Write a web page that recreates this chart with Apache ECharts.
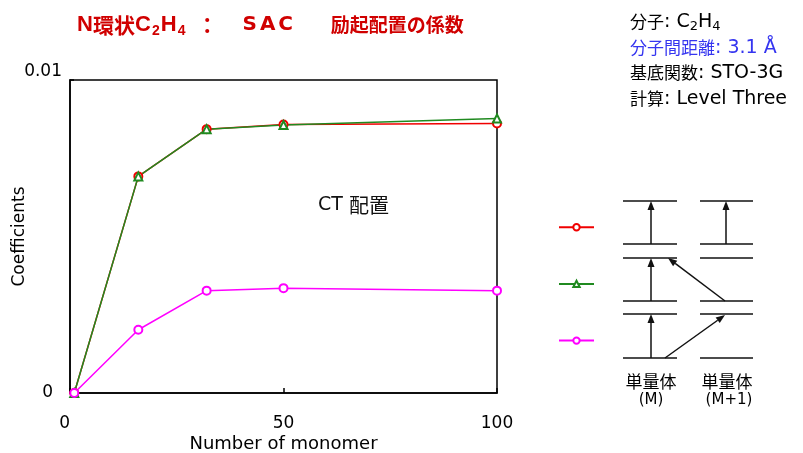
<!DOCTYPE html>
<html><head><meta charset="utf-8">
<script src="https://cdn.jsdelivr.net/npm/echarts@6/dist/echarts.min.js"></script>
<style>html,body{margin:0;padding:0;background:#fff}#c{width:803px;height:453px}</style>
</head><body><div id="c"></div>
<script>
// ---- data ----
const monomers = [1, 16, 32, 50, 100];
const ctRed = [0, 0.00692, 0.00843, 0.00858, 0.00861];
const ctGreen = [0, 0.00692, 0.00843, 0.00856, 0.00877];
const ctMagenta = [0, 0.00202, 0.00327, 0.00335, 0.00327];
const seriesNames = ['CT-1', 'CT-2', 'CT-3'];
const yTickLabels = ['0', '0.01'];
const xAxisTitle = 'Number of monomer';
const yAxisTitle = 'Coefficients';

const LAT = 'DejaVu Sans';
const CJK = 'Noto Sans CJK JP';
const FF = "'DejaVu Sans', 'Noto Sans CJK JP', sans-serif";

function pairs(vals) { return monomers.map((m, i) => [m, vals[i]]); }

function arrowEls(x1, y1, x2, y2) {
  const dx = x2 - x1, dy = y2 - y1, L = Math.hypot(dx, dy);
  const ux = dx / L, uy = dy / L, h = 9, w = 3.5;
  const bx = x2 - ux * h, by = y2 - uy * h;
  return [
    { type: 'line', shape: { x1: x1, y1: y1, x2: bx, y2: by }, style: { stroke: '#111', lineWidth: 1.5 } },
    { type: 'polygon', shape: { points: [[x2, y2], [bx - uy * w, by + ux * w], [bx + uy * w, by - ux * w]] }, style: { fill: '#111' } }
  ];
}

const levelYs = [201, 244, 258, 301, 314, 358];
const cols = [[623, 677], [700, 753]];
const graphics = [];
cols.forEach(c => levelYs.forEach(y => graphics.push({ type: 'line', shape: { x1: c[0], y1: y, x2: c[1], y2: y }, style: { stroke: '#111', lineWidth: 1.5 } })));
[[651, 244, 651, 201], [726, 244, 726, 201], [651, 301, 651, 258], [651, 358, 651, 314], [725, 301, 668, 258], [665, 358, 725, 315]]
  .forEach(a => graphics.push(...arrowEls(a[0], a[1], a[2], a[3])));

function txt(x, y, text, rich, base) {
  return { type: 'text', style: Object.assign({ x: x, y: y, text: text, rich: rich, textVerticalAlign: 'middle', fill: '#000', fontFamily: FF, fontSize: 18 }, base || {}) };
}

// Title
const RED = '#d00000';
graphics.push(txt(77, 25, '{a|N}{j|環状}{a|C}{s|2}{a|H}{s|4}{k|：}{b|S}{b|A}{b|C}{m|励起配置の係数}', {
  a: { fontSize: 22, fontWeight: 'bold', fontFamily: 'Liberation Sans', fill: RED },
  j: { fontSize: 21, fontWeight: 'bold', fontFamily: CJK, fill: RED },
  s: { fontSize: 14, fontWeight: 'bold', fontFamily: 'Liberation Sans', fill: RED, width: 10, align: 'center', padding: [12, 0, 0, 0] },
  k: { fontSize: 21, fontWeight: 'bold', fontFamily: CJK, fill: RED, padding: [0, 23, 0, 10] },
  b: { fontSize: 20, fontWeight: 'bold', fontFamily: LAT, fill: RED, width: 18, align: 'center' },
  m: { fontSize: 19, fontWeight: 'bold', fontFamily: CJK, fill: RED, padding: [0, 0, 0, 36] }
}, { fill: RED }));

// Info block
const infoRich = (col) => ({
  c: { fontSize: 17, fontFamily: CJK, fill: col },
  l: { fontSize: 19, fontFamily: LAT, fill: col },
  s: { fontSize: 13, fontFamily: LAT, fill: col, padding: [10, 0, 0, 0] }
});
graphics.push(txt(630, 22, '{c|分子}{l|: C}{s|2}{l|H}{s|4}', infoRich('#000')));
graphics.push(txt(630, 48, '{c|分子間距離}{l|: 3.1 Å}', infoRich('#3535f0')));
graphics.push(txt(630, 73, '{c|基底関数}{l|: STO-3G}', infoRich('#000')));
graphics.push(txt(630, 99, '{c|計算}{l|: Level Three}', infoRich('#000')));

// CT label
graphics.push(txt(318, 205, '{l|CT }{c|配置}', { l: { fontSize: 19, fontFamily: LAT, fill: '#111' }, c: { fontSize: 20, fontFamily: CJK, fill: '#111' } }));

// Diagram labels
graphics.push(txt(651, 382, '単量体', null, { fontFamily: CJK, fontSize: 17, textAlign: 'center' }));
graphics.push(txt(651, 400, '(M)', null, { fontFamily: LAT, fontSize: 15, textAlign: 'center' }));
graphics.push(txt(727, 382, '単量体', null, { fontFamily: CJK, fontSize: 17, textAlign: 'center' }));
graphics.push(txt(729, 400, '(M+1)', null, { fontFamily: LAT, fontSize: 15, textAlign: 'center' }));

const chart = echarts.init(document.getElementById('c'), null, { renderer: 'canvas' });
const mk = (name, vals, color, symbol) => ({
  name: name, type: 'line', data: pairs(vals), symbol: symbol, symbolSize: 8, showAllSymbol: true,
  lineStyle: { color: color, width: 1.5 }, itemStyle: { color: color, borderColor: color, borderWidth: 1.3 },
  emphasis: { disabled: true }
});

chart.setOption({
  animation: false,
  backgroundColor: '#fff',
  grid: { left: 70, right: 306, top: 80, bottom: 60, show: true, borderColor: '#000', borderWidth: 1.5,
          containLabel: false, outerBoundsMode: 'none' },
  legend: {
    orient: 'vertical', left: 553, top: 218, itemWidth: 35, itemHeight: 8, itemGap: 48.3,
    data: seriesNames, formatter: () => '', textStyle: { fontSize: 1 }, selectedMode: false
  },
  xAxis: {
    type: 'value', min: 0, max: 100, interval: 50,
    axisLine: { lineStyle: { color: '#000', width: 1.5 } },
    axisTick: { inside: true, length: 5, lineStyle: { color: '#000', width: 1.5 } },
    axisLabel: { color: '#000', fontSize: 17, fontFamily: LAT, margin: 22, alignMinLabel: 'right', hideOverlap: false },
    splitLine: { show: false },
    name: xAxisTitle, nameLocation: 'middle', nameGap: 42, nameMoveOverlap: false,
    nameTextStyle: { fontSize: 18, color: '#000', fontFamily: LAT }
  },
  yAxis: {
    type: 'value', min: 0, max: 0.01, interval: 0.01,
    axisLine: { show: true, lineStyle: { color: '#000', width: 1.5 } },
    axisTick: { show: true, inside: true, length: 4, lineStyle: { color: '#000', width: 1.5 } },
    axisLabel: {
      color: '#000', fontSize: 17, fontFamily: LAT, margin: 8, verticalAlignMaxLabel: 'bottom',
      formatter: v => v === 0 ? '{z|' + yTickLabels[0] + '}' : yTickLabels[1],
      rich: { z: { fontSize: 17, fontFamily: LAT, color: '#000', padding: [0, 9, 0, 0] } }
    },
    splitLine: { show: false },
    name: yAxisTitle, nameLocation: 'middle', nameGap: 42, nameRotate: 90, nameMoveOverlap: false,
    nameTextStyle: { fontSize: 17, color: '#000', fontFamily: LAT }
  },
  series: [
    mk(seriesNames[0], ctRed, '#f00000', 'emptyCircle'),
    mk(seriesNames[1], ctGreen, '#208a20', 'emptyTriangle'),
    mk(seriesNames[2], ctMagenta, '#ff00ff', 'emptyCircle')
  ],
  graphic: { elements: graphics }
});
</script></body></html>
